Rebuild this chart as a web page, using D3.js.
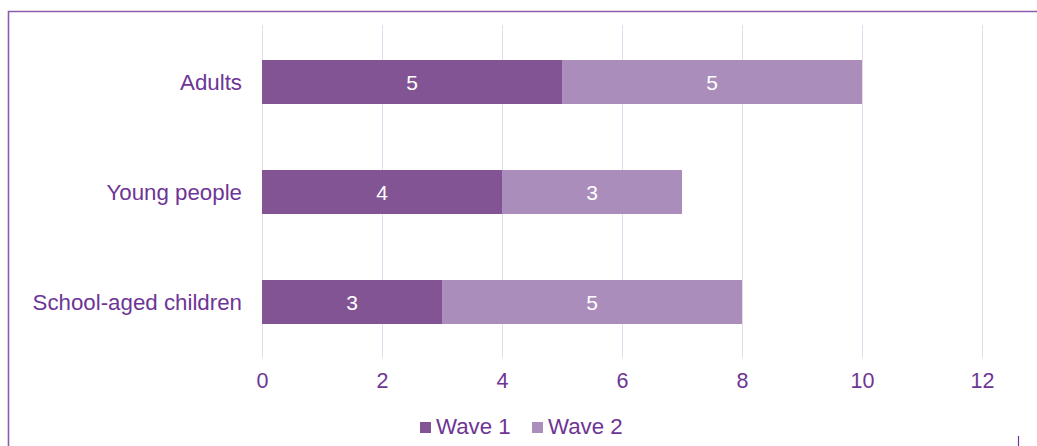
<!DOCTYPE html>
<html><head><meta charset="utf-8">
<script src="https://cdn.jsdelivr.net/npm/d3@7"></script>
<style>html,body{margin:0;padding:0;background:#fff;}svg{display:block;}</style>
</head><body>
<svg id="c" width="1037" height="446"></svg>
<script>
const categories = ["Adults", "Young people", "School-aged children"];
const wave1 = [5, 4, 3];
const wave2 = [5, 3, 5];
const seriesNames = ["Wave 1", "Wave 2"];
const xTicks = [0, 2, 4, 6, 8, 10, 12];

const colors = ["#835494", "#ab8dbb"];
const textColor = "#6e3596";
const font = "Liberation Sans, Arial, sans-serif";

const svg = d3.select("#c");
const W = 1037, H = 446;

// outer border (left + top visible)
svg.append("path").attr("d", `M8.5,${H + 5} L8.5,11.5 L${W + 5},11.5`)
  .attr("fill", "none").attr("stroke", "#8d5cae").attr("stroke-width", 1.6);

const x = d3.scaleLinear().domain([0, 12]).range([262, 982]);
const y = d3.scaleBand().domain(categories).range([27, 357]).paddingInner(0.6).paddingOuter(0.3);

// gridlines
svg.append("g").selectAll("line").data(xTicks).join("line")
  .attr("x1", d => x(d) + 0.5).attr("x2", d => x(d) + 0.5)
  .attr("y1", 25).attr("y2", 358)
  .attr("stroke", "#e5ddee").attr("stroke-width", 1);

const rows = categories.map((c, i) => ({c, vals: [wave1[i], wave2[i]]}));
const stack = d3.stack().keys([0, 1])(rows.map(r => r.vals));

stack.forEach((s, si) => {
  const g = svg.append("g");
  g.selectAll("rect").data(s).join("rect")
    .attr("x", d => x(d[0])).attr("width", d => x(d[1]) - x(d[0]))
    .attr("y", (d, i) => y(categories[i])).attr("height", y.bandwidth())
    .attr("fill", colors[si]);
  g.selectAll("text").data(s).join("text")
    .attr("x", d => (x(d[0]) + x(d[1])) / 2)
    .attr("y", (d, i) => y(categories[i]) + y.bandwidth() / 2)
    .attr("dy", "0.36em").attr("text-anchor", "middle")
    .attr("fill", "#fff").attr("font-family", font).attr("font-size", 21)
    .text(d => d[1] - d[0]);
});

// category labels
const yAxis = d3.axisLeft(y).tickSize(0).tickPadding(20);
const ya = svg.append("g").attr("transform", "translate(262,0)").call(yAxis);
ya.select(".domain").remove();
ya.selectAll("text").attr("fill", textColor).attr("font-family", font).attr("font-size", 22.3)
  .attr("dy", "0.36em");

// x axis tick labels
const xAxis = d3.axisBottom(x).tickValues(xTicks).tickSize(0).tickPadding(0);
const xa = svg.append("g").attr("transform", "translate(0,373)").call(xAxis);
xa.select(".domain").remove();
xa.selectAll("text").attr("fill", textColor).attr("font-family", font).attr("font-size", 21.5)
  .attr("dy", "0.72em");

// legend
const legendX = [420, 532];
const lg = svg.append("g");
seriesNames.forEach((n, i) => {
  lg.append("rect").attr("x", legendX[i]).attr("y", 422).attr("width", 11).attr("height", 11).attr("fill", colors[i]);
  lg.append("text").attr("x", legendX[i] + 16).attr("y", 434)
    .attr("fill", textColor).attr("font-family", font).attr("font-size", 22.3).text(n);
});

// small mark at bottom right
svg.append("line").attr("x1", 1018.5).attr("x2", 1018.5).attr("y1", 436).attr("y2", 446)
  .attr("stroke", textColor).attr("stroke-width", 1.2);
</script>
</body></html>
